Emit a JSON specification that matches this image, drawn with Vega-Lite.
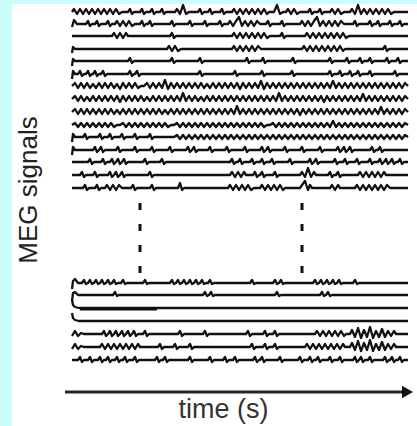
{
  "$schema": "https://vega.github.io/schema/vega-lite/v6.json",
  "width": 405,
  "height": 422,
  "autosize": {"type": "none"},
  "padding": {"left": 12, "top": 4, "right": 0, "bottom": 0},
  "background": "#ccfdfd",
  "config": {"view": {"stroke": null, "fill": "#ffffff"}},
  "datasets": {
    "traces": [
      {"ch": "T1",
       "t": [72,74,77,80,83,86,89,92,95,98,101,104,107,110,113,116,119,122, 128,130,132,134, 140,142,144,146, 150,152,154,156, 160,162,164,166, 175,177,180,183,186,189, 198,200,202,204, 208,210,212,214, 220,222,224,226, 232,234,237,240,243,246,249,252,255,258,261,264,267,269, 274,277,280,283, 286,288,291,294,297,300, 308,310,312,314, 318,320,322,324, 330,332,335,338,341,344, 350,352,355,358,361,364,367,370,373,376,379,382,385,388,391,394, 408],
       "y": [12,9,14,9,14,9,14,9,14,9,14,9,14,9,14,9,14,12, 12,9,14,12, 12,9,14,12, 12,9,14,12, 12,9,14,12, 12,9,14,5,14,12, 12,9,14,12, 12,9,14,12, 12,9,14,12, 12,9,14,9,14,9,14,9,14,9,14,9,14,12, 12,5,14,12, 12,9,14,9,14,12, 12,9,14,12, 12,9,14,12, 12,9,14,9,14,12, 12,9,14,5,14,9,14,9,14,9,14,9,14,9,14,12, 12]},
      {"ch": "T2",
       "t": [72,74,77, 86,88,90,92, 95,97,99,101, 106,108,110,112, 115,117,120,123,126,129,132,135, 140,142,144,146, 148,150,152,154, 170,172,174,176, 188,190,192,194, 203,205,207,209, 218,220,222,224, 228,230,233,236,239,242,245,248,251,254,257,260, 266,268,270,272, 280,282,284,286, 300,302,305,308,311,314,317,320,323,326,329,332,335,338,341,344, 353,355,357,359, 368,370,372,374, 376,378,380,382, 388,390,392,394, 398,400,402,404, 408],
       "y": [27,20,24, 24,21,26,24, 24,21,26,24, 24,21,26,24, 24,21,26,21,26,21,26,24, 24,21,26,24, 24,21,26,24, 24,21,26,24, 24,21,26,24, 24,21,26,24, 24,21,26,24, 24,21,26,21,17,26,21,26,21,26,21,24, 24,21,26,24, 24,21,26,24, 24,21,26,21,26,21,17,26,21,26,21,26,21,26,21,24, 24,21,26,24, 24,21,26,24, 24,21,26,24, 24,21,26,24, 24,21,26,24, 24]},
      {"ch": "T3",
       "t": [72, 112,114,117,120,123,126,128, 170,172,174,176, 232,234,237,240,243,246,249,252,255,258,261,264,267,270, 280,282,284,286, 305,307,310,313,316,319,322,325,328,331,334,337,340,343,346,349, 408],
       "y": [36, 36,33,38,33,38,33,36, 36,33,38,36, 36,33,38,33,38,33,38,33,38,33,38,33,38,36, 36,33,38,36, 36,33,38,33,38,33,38,33,38,33,38,33,38,33,38,36, 36]},
      {"ch": "T4",
       "t": [72,73,75, 167,169,172,175,178,181, 232,234,237,240,243,246,249,252,255,258,261, 302,304,307,310,313,316,319,322,325,328,331,334,337,340,343,345, 383,385,387,389, 408],
       "y": [53,47,49, 49,46,51,46,51,49, 49,46,51,46,51,46,51,46,51,46,49, 49,46,51,46,51,46,51,46,51,46,51,46,51,46,51,49, 49,46,51,49, 49]},
      {"ch": "T5",
       "t": [72,73,75, 128,130,132,134, 170,172,174,176, 198,200,202,204, 245,247,249,251, 261,263,265,267, 291,293,295,297, 328,330,332,334, 345,347,349,351, 358,360,362,364, 368,370,372,374, 385,387,389,391, 396,398,400,402, 408],
       "y": [66,59,61, 61,58,63,61,61,58,63,61,61,58,63,61,61,58,63,61, 61,58,63,61,61,58,63,61,61,58,63,61,61,58,63,61, 61,58,63,61,61,58,63,61,61,58,63,61,61,58,63,61, 61]},
      {"ch": "T6",
       "t": [72,73,75, 78,80,82,84, 86,88,90,92, 93,95,97,99, 101,103,105,107, 128,130,132,134, 135,137,139,141, 198,200,202,204, 233,235,237,239, 260,262,264,266, 290,292,294,296, 328,330,332,334, 338,340,342,344, 348,350,352,354, 356,358,360,362, 368,370,372,374, 393,395,397,399, 408],
       "y": [79,71,74, 74,71,76,74,74,71,76,74,74,71,76,74,74,71,76,74, 74,71,76,74,74,71,76,74,74,71,76,74,74,71,76,74, 74,71,76,74,74,71,76,74,74,71,76,74,74,71,76,74, 74,71,76,74,74,71,76,74,74,71,76,74,74,71,76,74, 74]},
      {"ch": "T7",
       "t": [72,75,78,81,84,87,90,93,96,99,102,105,108,111,114,117,120,123,126,129,132,135,138,141,144,147,150,153,156,159,162,165,168,171,174,177,180,183,186,189,192,195,198,201,204,207,210,213,216,219,222,225,228,231,234,237,240,243,246,249,252,255,258,261,264,267,270,273,276,279,282,285,288,291,294,297,300,303,306,309,312,315,318,321,324,327,330,333,336,339,342,345,348,351,354,357,360,363,366,369,372,375,378,381,384,387,390,393,396,399,402,405,408],
       "y": [86,83,88,83,88,83,88,84,88,83, 88,83,88,83,88,84,89,83,88,83, 88,83,88,86,86,83,88,83,88,83, 88,80,89,83,88,83,88,83,88,83, 88,83,88,83,88,84,88,83,88,83, 88,83,88,83,88,83,89,83,88,83, 88,83,88,81,89,83,88,83,88,83, 88,83,88,83,88,83,88,83,88,83, 88,83,88,83,88,83,88,81,88,83, 88,83,88,83,88,83,88,83,88,83, 88,83,88,83,88,83,88,83,88,83, 88,83,86]},
      {"ch": "T8",
       "t": [72,75,78,81,84,87,90,93,96,99,102,105,108,111,114,117,120,123,126,129,132,135,138,141,144,147,150,153,156,159,162,165,168,171,174,177,180,183,186,189,192,195,198,201,204,207,210,213,216,219,222,225,228,231,234,237,240,243,246,249,252,255,258,261,264,267,270,273,276,279,282,285,288,291,294,297,300,303,306,309,312,315,318,321,324,327,330,333,336,339,342,345,348,351,354,357,360,363,366,369,372,375,378,381,384,387,390,393,396,399,402,405,408],
       "y": [99,96,101,96,101,97,101,96,101,96, 101,96,101,96,101,96,102,96,101,96, 101,96,101,96,101,97,101,96,101,96, 101,96,101,96,101,96,101,93,101,96, 101,96,101,97,101,96,101,96,101,96, 101,96,101,96,101,96,101,96,101,96, 101,96,101,96,101,96,101,96,101,93, 101,96,101,96,101,96,101,96,101,96, 101,96,101,96,102,96,101,96,101,96, 101,96,101,96,101,96,101,94,101,96, 101,96,101,96,101,96,101,96,101,96, 101,96,99]},
      {"ch": "T9",
       "t": [72,75,78,81,84,87,90,93,96,99,102,105,108,111,114,117,120,123,126,129,132,135,138,141,144,147,150,153,156,159,162,165,168,171,174,177,180,183,186,189,192,195,198,201,204,207,210,213,216,219,222,225,228,231,234,237,240,243,246,249,252,255,258,261,264,267,270,273,276,279,282,285,288,291,294,297,300,303,306,309,312,315,318,321,324,327,330,333,336,339,342,345,348,351,354,357,360,363,366,369,372,375,378,381,384,387,390,393,396,399,402,405,408],
       "y": [112,109,114,109,114,109,114,109,114,109, 114,109,114,109,114,110,114,109,114,109, 114,109,114,109,114,109,114,109,114,109, 114,110,114,109,114,109,114,109,114,109, 114,109,114,109,114,109,114,109,114,109, 114,109,114,109,114,106,114,109,114,109, 114,109,114,109,114,109,114,109,114,109, 114,109,114,109,114,109,115,109,114,109, 114,109,114,109,114,109,114,109,114,109, 114,109,114,109,114,109,114,109,114,109, 114,109,114,107,114,109,114,109,114,109, 114,109,112]},
      {"ch": "T10",
       "t": [72,75,78,81,84,87,90,93,96,99,102,105,108,111,114,117,120,123,126,129,132,135,138,141,144,147,150,153,156,159,162,165,168,171,174,177,180,183,186,189,192,195,198,201,204,207,210,213,216,219,222,225,228,231,234,237,240,243,246,249,252,255,258,261,264,267,270,273,276,279,282,285,288,291,294,297,300,303,306,309,312,315,318,321,324,327,330,333,336,339,342,345,348,351,354,357,360,363,366,369,372,375,378,381,384,387,390,393,396,399,402,405,408],
       "y": [125,123,127,123,127,123,127,123,127,123, 127,123,127,123,127,125,125,123,127,123, 127,123,127,123,127,123,127,123,127,123, 127,123,127,125,125,123,127,123,127,123, 127,123,127,123,127,123,127,123,127,123, 127,123,127,123,127,123,127,123,127,123, 127,123,127,123,127,125,125,123,127,123, 127,123,127,123,127,123,127,123,127,123, 127,123,127,123,127,123,127,121,127,123, 127,123,127,123,127,123,127,123,127,123, 127,123,127,123,127,123,127,123,127,123, 127,123,125]},
      {"ch": "T11",
       "t": [72,73,75, 83,85,87,89, 98,100,102,104, 108,110,112,114, 120,122,124,126, 133,135,137,139, 148,150,152,154, 174, 177,180,183,186,189,192,195,198,201,204, 207,210,213,216,219,222,225,228,231,234, 237,240,243,246,249,252,255,258,261,264, 267,270,273,276,279,282,285,288,291,294, 297,300,303,306,309,312,315,318,321,324, 327,330,333,336,339,342,345,348,351,354, 357,360,363,366,369,372,375,378,381,384, 387,390,393,396,399,402,405, 408],
       "y": [142,134,137, 137,134,139,137, 137,134,139,137, 137,134,139,137, 137,134,139,137, 137,134,139,137, 137,134,139,137, 137, 135,139,135,139,135,139,135,139,135,139, 135,139,135,139,135,139,135,139,135,139, 135,139,135,139,135,139,135,139,135,139, 135,139,135,139,135,139,135,139,135,139, 135,139,135,139,135,139,135,139,135,139, 135,139,135,139,135,139,135,139,135,139, 135,139,135,139,135,139,135,139,135,139, 135,139,135,139,135,139,135, 137]},
      {"ch": "T12",
       "t": [72,73,75, 93,95,97,99, 99,101,103,105, 116,118,120,122, 133,135,137,139, 150,152,154,156, 168,170,172,174, 186,188,190,192, 192,194,196,198, 208,210,212,214, 225,227,229,231, 243,245,247,249, 260,262,264,266, 266,268,270,272, 283,285,287,289, 300,302,304,306, 318,320,322,324, 336,338,340,342, 342,344,346,348, 348,350,352,354, 370,372,374,376, 378,380,382,384, 408],
       "y": [155,147,150, 150,147,152,150,150,147,152,150,150,147,152,150,150,147,152,150, 150,147,152,150,150,147,152,150,150,147,152,150,150,147,152,150, 150,147,152,150,150,147,152,150,150,147,152,150,150,147,152,150, 150,147,152,150,150,147,152,150,150,147,152,150,150,147,152,150, 150,147,152,150,150,147,152,150,150,147,152,150,150,147,152,150, 150,147,152,150, 150]},
      {"ch": "T13",
       "t": [72, 88,90,92,94, 101,103,105,107, 110,112,114,116, 116,118,120,122, 122,124,126,128, 143,145,147,149, 160,162,164,166, 230,232,234,236, 238,240,242,244, 250,252,254,256, 260,262,264,266, 270,272,274,276, 288,290,292,294, 308,310,312,314, 314,316,318,320, 333,335,337,339, 343,345,347,349, 355,357,359,361, 368,370,372,374, 378,380,382,384, 384,386,388,390, 390,392,394,396, 398,400,402,404, 408],
       "y": [162, 162,159,164,162,162,159,164,162,162,159,164,162,162,159,164,162, 162,159,164,162,162,159,164,162,162,159,164,162,162,159,164,162, 162,159,164,162,162,159,164,162,162,159,164,162,162,159,164,162, 162,159,164,162,162,159,164,162,162,159,164,162,162,159,164,162, 162,159,164,162,162,159,164,162,162,159,164,162,162,159,164,162, 162,159,164,162,162,159,164,162,162,159,164,162, 162]},
      {"ch": "T14",
       "t": [72, 80,82,84,86, 93,95,97,99, 108,110,112,114, 114,116,118,120, 120,122,124,126, 148,150,152,154, 230,232,235,238,241,244,246, 253,255,257,259, 260,262,264,266, 273,275,277,279, 300,302,305,308,311,314,316, 328,330,332,334, 336,338,340,342, 358,360,363,366,369,372,375,378,381,384,386, 408],
       "y": [175, 175,172,177,175,175,172,177,175,175,172,177,175,175,172,177,175,175,172,177,175,175,172,177,175, 175,172,177,172,177,172,175, 175,172,177,175,175,172,177,175,175,172,177,175, 175,172,177,168,177,172,175, 175,172,177,175,175,172,177,175, 175,172,177,172,177,172,177,172,177,172,175, 175]},
      {"ch": "T15",
       "t": [72, 83,85,87,89, 95,97,99,101, 105,107,110,113,116,119,122, 131,133,135,137, 150,152,154,156, 178,180,182,184, 228,230,233,236,239,242,245,248,251,254, 260,262,265,268,271,274,277,280,283,285, 300,302,305,308,310,312, 330,332,335,338,340, 355,357,360,363,366,369,372,375,378,381,384,387,390, 408],
       "y": [188, 188,185,190,188, 188,185,190,188, 188,185,190,185,190,185,188, 188,185,190,188, 188,185,190,188, 188,183,190,188, 188,185,190,185,190,185,190,185,190,188, 188,185,190,185,190,185,190,185,190,188, 188,185,181,190,185,188, 188,185,190,185,188, 188,185,190,185,190,185,190,185,190,185,190,185,188, 188]},
      {"ch": "B1",
       "t": [72,73,75,78, 82,84,86,88, 88,90,92,94, 94,96,98,100, 100,102,104,106, 106,108,110,112, 112,114,116,118, 121,123,125,127, 143,145,147,149, 170,172,174,176, 176,178,180,182, 182,184,186,188, 188,190,192,194, 194,196,198,200, 200,202,204,206, 208,210,212,214, 250,252,254,256, 273,275,277,279, 279,281,283,285, 313,315,317,319, 319,321,323,325, 325,327,329,331, 331,333,335,337, 337,339,341,343, 353,355,357,359, 408],
       "y": [289,281,279,283, 283,280,284,283,283,280,284,283,283,280,284,283,283,280,284,283, 283,280,284,283,283,280,284,283,283,280,284,283,283,280,284,283, 283,280,284,283,283,280,284,283,283,280,284,283,283,280,284,283, 283,280,284,283,283,280,284,283,283,280,284,283,283,280,284,283, 283,280,284,283,283,280,284,283,283,280,284,283,283,280,284,283, 283,280,284,283,283,280,284,283,283,280,284,283,283,280,284,283, 283]},
      {"ch": "B2",
       "t": [72,73,75,78, 113,115,117,119, 203,205,207,209, 209,211,213,215, 275,277,279,281, 320,322,324,326, 326,328,330,332, 408],
       "y": [301,293,292,295, 295,292,296,295, 295,292,296,295, 295,292,296,295, 295,292,296,295, 295,292,296,295, 295,292,296,295, 295]},
      {"ch": "B3", "t": [72,73,75,79,408], "y": [300,305,307,308,308]},
      {"ch": "B3b", "t": [80,157], "y": [309.3,309.3]},
      {"ch": "B4", "t": [72,73,75,79,408], "y": [313,318,320,321,321]},
      {"ch": "B5",
       "t": [72,75,78,81,84, 102,104,106,108, 108,110,112,114, 114,116,118,120, 120,122,124,126, 126,128,130,132, 132,134,136,138, 143,145,147,149, 178,180,182,184, 203,205,207,209, 246,248,250,252, 263,265,267,269, 273,275,277,279, 315,317,320,323,326,329,332,335,338,341,344,346, 350,352,355,358,361,364,367,370,373,376,379,382,385,388,391,394,396, 408],
       "y": [336,331,336,333,334, 334,331,336,334,334,331,336,334,334,331,336,334,334,331,336,334, 334,331,336,334,334,331,336,334,334,331,336,334,334,331,336,334, 334,331,336,334,334,331,336,334,334,331,336,334,334,331,336,334, 334,331,336,331,336,331,336,331,336,331,336,334, 334,330,337,328,338,330,337,327,338,331,337,329,337,331,336,331,334, 334]},
      {"ch": "B6",
       "t": [72,75,78,81,84, 100,102,105,108,111,114,117,120,123,126,129,132,135,138,140, 158,160,162,164, 173,175,177,179, 188,190,192,194, 250,252,254,256, 263,265,267,269, 273,275,277,279, 305,307,310,313,316,319,322,325,328,331,334,337,340,343,345, 350,352,355,358,361,364,367,370,373,376,379,382,385,388,391,394,396, 408],
       "y": [349,344,349,346,347, 347,344,349,344,349,344,349,344,349,344,349,344,349,344,347, 347,344,349,347,347,344,349,347,347,344,349,347, 347,344,349,347,347,344,349,347,347,344,349,347, 347,344,349,344,349,344,349,344,349,344,349,344,349,344,347, 347,343,350,341,351,343,350,340,351,344,350,342,350,344,349,344,347, 347]},
      {"ch": "B7",
       "t": [72, 78,80,82,84, 88,90,92,94, 98,100,102,104, 106,108,110,112, 115,117,119,121, 123,125,127,129, 133,135,137,139, 155,157,159,161, 163,165,167,169, 188,190,192,194, 208,210,212,214, 223,225,227,229, 233,235,237,239, 253,255,257,259, 260,262,264,266, 278,280,282,284, 298,300,302,304, 308,310,312,314, 316,318,320,322, 328,330,332,334, 338,340,342,344, 353,355,357,359, 359,361,363,365, 368,370,372,374, 383,385,387,389, 390,392,394,396, 398,400,402,404, 408],
       "y": [360, 360,357,362,360,360,357,362,360,360,357,362,360,360,357,362,360, 360,357,362,360,360,357,362,360,360,357,362,360,360,357,362,360, 360,357,362,360,360,357,362,360,360,357,362,360,360,357,362,360, 360,357,362,360,360,357,362,360,360,357,362,360,360,357,362,360, 360,357,362,360,360,357,362,360,360,357,362,360,360,357,362,360, 360,357,362,360,360,357,362,360,360,357,362,360,360,357,362,360, 360,357,362,360,360,357,362,360,360,357,362,360, 360]}
    ],
    "dashes": [
      {"t": 140, "y": 203, "y2": 273},
      {"t": 302, "y": 203, "y2": 273}
    ],
    "arrow": [{"t": 65, "t2": 405, "y": 392}],
    "arrowhead": [{"t": 407.5, "y": 392}],
    "ylabel": [{"label": "MEG signals", "t": 37, "y": 190}],
    "xlabel": [{"label": "time (s)", "t": 223.5, "y": 418}]
  },
  "layer": [
    {
      "data": {"name": "traces"},
      "transform": [{"flatten": ["t", "y"]}],
      "mark": {"type": "line", "color": "#111111", "strokeWidth": 2.3, "strokeJoin": "round"},
      "encoding": {
        "x": {"field": "t", "type": "quantitative", "scale": {"domain": [12, 417], "nice": false, "zero": false}, "axis": null},
        "y": {"field": "y", "type": "quantitative", "scale": {"domain": [4, 426], "nice": false, "zero": false, "reverse": true}, "axis": null},
        "detail": {"field": "ch", "type": "nominal"}
      }
    },
    {
      "data": {"name": "dashes"},
      "mark": {"type": "rule", "color": "#111111", "strokeWidth": 3, "strokeDash": [7, 14]},
      "encoding": {
        "x": {"field": "t", "type": "quantitative", "scale": {"domain": [12, 417], "nice": false, "zero": false}, "axis": null},
        "y": {"field": "y", "type": "quantitative", "scale": {"domain": [4, 426], "nice": false, "zero": false, "reverse": true}, "axis": null},
        "y2": {"field": "y2"}
      }
    },
    {
      "data": {"name": "arrow"},
      "mark": {"type": "rule", "color": "#262626", "strokeWidth": 3},
      "encoding": {
        "x": {"field": "t", "type": "quantitative", "scale": {"domain": [12, 417], "nice": false, "zero": false}, "axis": null},
        "x2": {"field": "t2"},
        "y": {"field": "y", "type": "quantitative", "scale": {"domain": [4, 426], "nice": false, "zero": false, "reverse": true}, "axis": null}
      }
    },
    {
      "data": {"name": "arrowhead"},
      "mark": {"type": "point", "shape": "triangle-right", "filled": true, "size": 160, "color": "#111111", "opacity": 1},
      "encoding": {
        "x": {"field": "t", "type": "quantitative", "scale": {"domain": [12, 417], "nice": false, "zero": false}, "axis": null},
        "y": {"field": "y", "type": "quantitative", "scale": {"domain": [4, 426], "nice": false, "zero": false, "reverse": true}, "axis": null}
      }
    },
    {
      "data": {"name": "ylabel"},
      "mark": {"type": "text", "angle": 270, "align": "center", "baseline": "alphabetic", "font": "Liberation Sans", "fontSize": 26, "color": "#222222"},
      "encoding": {
        "x": {"field": "t", "type": "quantitative", "scale": {"domain": [12, 417], "nice": false, "zero": false}, "axis": null},
        "y": {"field": "y", "type": "quantitative", "scale": {"domain": [4, 426], "nice": false, "zero": false, "reverse": true}, "axis": null},
        "text": {"field": "label"}
      }
    },
    {
      "data": {"name": "xlabel"},
      "mark": {"type": "text", "align": "center", "baseline": "alphabetic", "font": "Liberation Sans", "fontSize": 27, "color": "#333333"},
      "encoding": {
        "x": {"field": "t", "type": "quantitative", "scale": {"domain": [12, 417], "nice": false, "zero": false}, "axis": null},
        "y": {"field": "y", "type": "quantitative", "scale": {"domain": [4, 426], "nice": false, "zero": false, "reverse": true}, "axis": null},
        "text": {"field": "label"}
      }
    }
  ]
}
